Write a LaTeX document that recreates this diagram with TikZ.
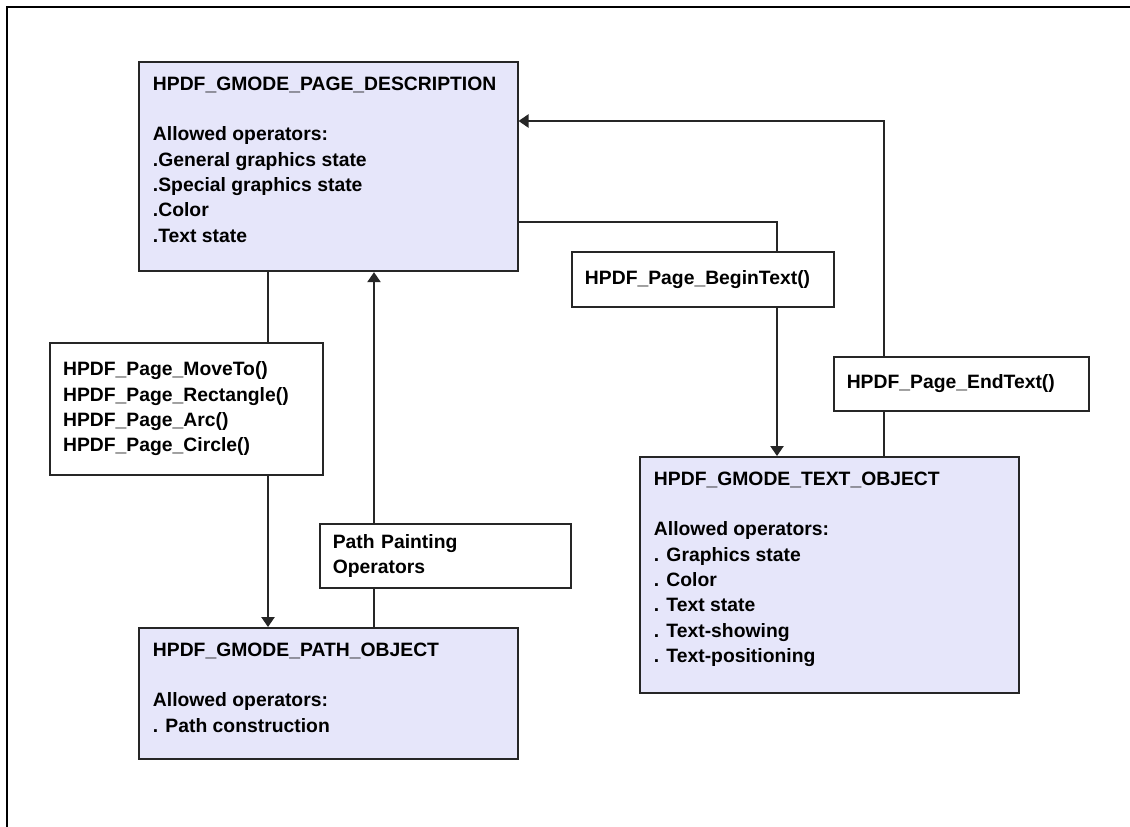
\documentclass[tikz,border=0pt]{standalone}
\usepackage{fontspec}
\setmainfont{Liberation Sans}
\usetikzlibrary{arrows.meta}

\definecolor{modefill}{RGB}{230,230,250}
\newcommand{\modetext}[3]{\begin{minipage}[t][#2][t]{#1}\raggedright #3\end{minipage}}

\tikzset{
  modebox/.style={draw=black!85, line width=1.4pt, fill=modefill, anchor=north west,
    inner xsep=10.5pt, inner ysep=11pt},
  funcbox/.style={draw=black!85, line width=1.4pt, fill=white, anchor=north west,
    align=left, inner xsep=9.5pt},
  link/.style={draw=black!85, line width=1.1pt},
  flow/.style={link, -{Triangle[length=7.5pt,width=10pt]}},
  frameline/.style={draw=black, line width=1.6pt},
}

\begin{document}
\begin{tikzpicture}[x=0.75pt, y=-0.75pt]
  \useasboundingbox (0,0) rectangle (1130,827);
  \fontsize{14.5pt}{19pt}\selectfont\bfseries

  % Drawing frame
  \draw[frameline] (1130,7) -- (7,7) -- (7,827);

  % Drawing mode boxes
  \node[modebox] (pd) at (138,61) {\modetext{263pt}{135pt}{%
    HPDF\_GMODE\_PAGE\_DESCRIPTION\\[19pt]
    Allowed operators:\\
    .General graphics state\\
    .Special graphics state\\
    .Color\\
    .Text state}};
  \node[modebox] (pathobj) at (138,627) {\modetext{263pt}{76pt}{%
    HPDF\_GMODE\_PATH\_OBJECT\\[19pt]
    Allowed operators:\\
    . Path construction}};
  \node[modebox] (textobj) at (639,456) {\modetext{263pt}{155pt}{%
    HPDF\_GMODE\_TEXT\_OBJECT\\[19pt]
    Allowed operators:\\
    . Graphics state\\
    . Color\\
    . Text state\\
    . Text-showing\\
    . Text-positioning}};

  % Drawing function boxes
  \node[funcbox, minimum width=204.75pt, minimum height=99pt, text width=185pt] (movebox) at (49,342)
    {HPDF\_Page\_MoveTo()\\ HPDF\_Page\_Rectangle()\\ HPDF\_Page\_Arc()\\ HPDF\_Page\_Circle()};
  \node[funcbox, minimum width=188.25pt, minimum height=48pt, text width=169pt] (paintbox) at (319,523)
    {Path Painting\\ Operators};
  \node[funcbox, minimum width=196.5pt, minimum height=41.25pt, text width=177pt] (begintext) at (571,251)
    {HPDF\_Page\_BeginText()};
  \node[funcbox, minimum width=191.25pt, minimum height=40.5pt, text width=172pt] (endtext) at (833,356)
    {HPDF\_Page\_EndText()};

  % Connector columns and rows
  \coordinate (colA) at (268,0);
  \coordinate (colB) at (374,0);
  \coordinate (colC) at (777,0);
  \coordinate (colD) at (884,0);
  \coordinate (rowA) at (0,222);
  \coordinate (rowB) at (0,121);

  % Drawing connectors
  \draw[link] (pd.south -| colA) -- (movebox.north -| colA);
  \draw[flow] (movebox.south -| colA) -- (pathobj.north -| colA);
  \draw[link] (pathobj.north -| colB) -- (paintbox.south -| colB);
  \draw[flow] (paintbox.north -| colB) -- (pd.south -| colB);
  \draw[link] (pd.east |- rowA) -| (begintext.north -| colC);
  \draw[flow] (begintext.south -| colC) -- (textobj.north -| colC);
  \draw[link] (textobj.north -| colD) -- (endtext.south -| colD);
  \draw[flow] (endtext.north -| colD) |- (pd.east |- rowB);
\end{tikzpicture}
\end{document}
